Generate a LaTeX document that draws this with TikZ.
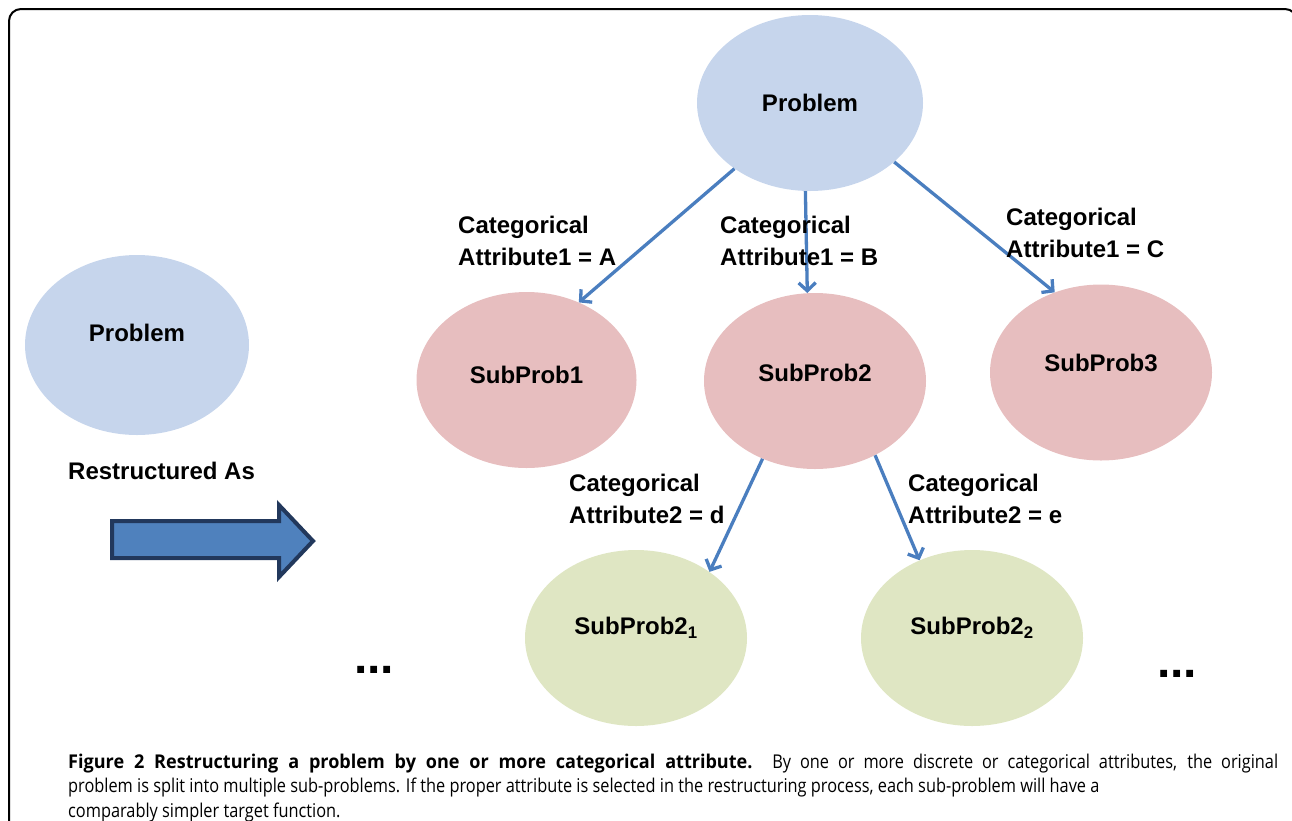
\documentclass[tikz,border=0pt]{standalone}
\usepackage{fontspec}
\setmainfont{Liberation Sans}
\newfontfamily\capfont[FakeStretch=0.86]{Open Sans}
\newfontfamily\capboldfont[FakeStretch=0.95]{Open Sans Bold}
\usetikzlibrary{shapes.geometric,arrows.meta}
\definecolor{probblue}{HTML}{C6D5EC}
\definecolor{subpink}{HTML}{E7BEBF}
\definecolor{subgreen}{HTML}{DFE6C3}
\definecolor{connblue}{HTML}{4A7EBF}
\definecolor{bigfill}{HTML}{4F81BD}
\definecolor{bigedge}{HTML}{22385C}
\newcommand{\liftby}[2]{\raisebox{#1}[\height][\depth]{#2}}
\begin{document}
\begin{tikzpicture}[x=1pt,y=-1pt,
  lbl/.style={font=\fontsize{24}{32}\selectfont\bfseries},
  ell/.style={ellipse,inner sep=0pt,lbl},
  probell/.style={ell,fill=probblue},
  pinkell/.style={ell,fill=subpink},
  greenell/.style={ell,fill=subgreen},
  attr/.style={lbl,align=left,inner sep=0pt,anchor=west},
  conn/.style={draw=connblue,line width=3.3pt,-{Straight Barb[length=8pt,width=17pt]}},
  dots/.style={font=\fontsize{48}{48}\selectfont\bfseries,inner sep=0pt,anchor=base},
  captxt/.style={font=\capfont\fontsize{19}{24}\selectfont,inner sep=0pt,anchor=base west}
]
\useasboundingbox (0,0) rectangle (1292,820);
\clip (0,0) rectangle (1292,820);
\draw[line width=2pt,rounded corners=12pt] (9,9) rectangle (1297,850);

% ellipses
\node[probell,minimum width=226pt,minimum height=176pt] (pTop) at (810,103) {Problem};
\node[probell,minimum width=224pt,minimum height=180pt] (pLeft) at (137,345) {\liftby{12pt}{Problem}};
\node[pinkell,minimum width=220pt,minimum height=176pt] (s1) at (526.5,380) {\liftby{5pt}{SubProb1}};
\node[pinkell,minimum width=222pt,minimum height=176pt] (s2) at (815,381) {\liftby{8pt}{SubProb2}};
\node[pinkell,minimum width=222pt,minimum height=176pt] (s3) at (1101,372.5) {\liftby{10pt}{SubProb3}};
\node[greenell,minimum width=222pt,minimum height=176pt] (s21) at (636,638) {\liftby{10pt}{SubProb2\textsubscript{1}}};
\node[greenell,minimum width=222pt,minimum height=176pt] (s22) at (972,638) {\liftby{10pt}{SubProb2\textsubscript{2}}};

% connectors
\draw[conn] (pTop.221.7) -- (s1.56.8);
\draw[conn] (pTop.267.3) -- (s2.95.8);
\draw[conn] (pTop.325) -- (s3.120.7);
\draw[conn] (s2.236.6) -- (s21.42.5);
\draw[conn] (s2.309.5) -- (s22.124.2);

% labels
\node[attr] (la) at (458,241) {Categorical\\Attribute1 = A};
\node[attr] (lb) at (720,241) {Categorical\\Attribute1 = B};
\node[attr] (lc) at (1006,233) {Categorical\\Attribute1 = C};
\node[attr] (ld) at (569,499) {Categorical\\Attribute2 = d};
\node[attr] (le) at (908,499) {Categorical\\Attribute2 = e};
\node[lbl,inner sep=0pt,anchor=base west] (rs) at (68,479.5) {Restructured As};

% block arrow
\draw[line width=4pt,draw=bigedge,fill=bigfill,line join=miter]
  (112,521) -- (279,521) -- (279,505) -- (313,541) -- (279,577) -- (279,558) -- (112,558) -- cycle;

% dots
\node[dots] (d1) at (374,673) {...};
\node[dots] (d2) at (1177,677) {...};

% caption
\node[captxt] (c1) at (68,768) {\makebox[1210pt][s]{{\capboldfont Figure 2 Restructuring a problem by one or more categorical attribute.} By one or more discrete or categorical attributes, the original}};
\node[captxt] (c2) at (68,792.5) {problem is split into multiple sub-problems. If the proper attribute is selected in the restructuring process, each sub-problem will have a};
\node[captxt] (c3) at (68,817) {comparably simpler target function.};
\end{tikzpicture}
\end{document}
